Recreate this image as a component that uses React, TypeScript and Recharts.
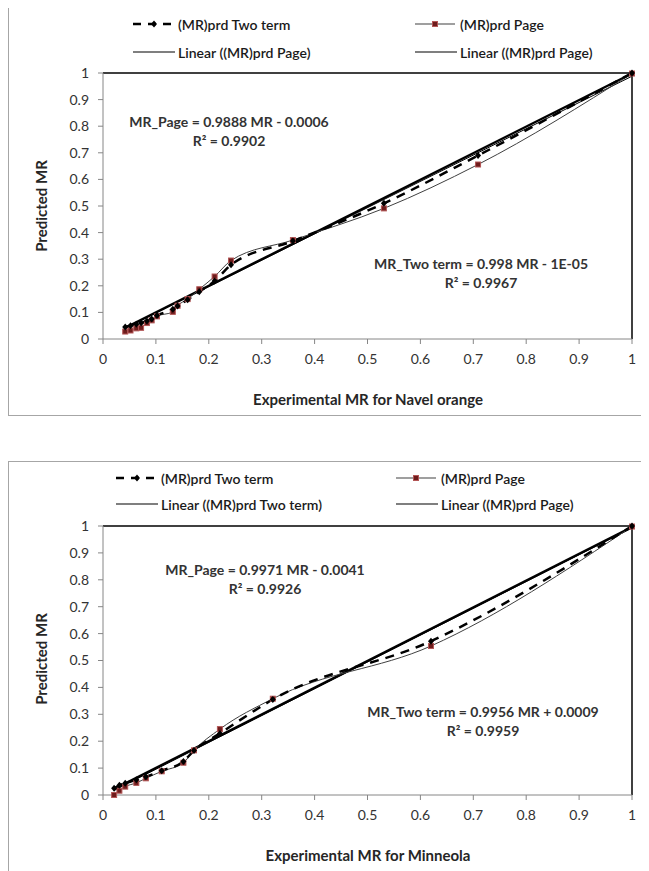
import { LineChart, Line, XAxis, YAxis, ReferenceLine } from "recharts";

const ticks = [0, 0.1, 0.2, 0.3, 0.4, 0.5, 0.6, 0.7, 0.8, 0.9, 1];

// Navel orange
const navelMR = [0.042, 0.052, 0.063, 0.072, 0.083, 0.092, 0.102, 0.132, 0.141, 0.16, 0.182, 0.211, 0.242, 0.359, 0.531, 0.709, 1];
const navelTwoTerm = [0.045, 0.05, 0.055, 0.06, 0.068, 0.075, 0.088, 0.112, 0.124, 0.148, 0.178, 0.218, 0.279, 0.368, 0.51, 0.69, 1];
const navelPage = [0.028, 0.032, 0.04, 0.042, 0.06, 0.07, 0.085, 0.102, 0.125, 0.15, 0.187, 0.235, 0.295, 0.372, 0.491, 0.656, 0.998];
const navelTrendX = [0.042, 1];
const navelTrendTwo = [0.042, 0.998];
const navelTrendPage = [0.041, 0.988];

// Minneola
const minneolaMR = [0.021, 0.031, 0.042, 0.063, 0.081, 0.111, 0.152, 0.172, 0.221, 0.321, 0.62, 1];
const minneolaTwoTerm = [0.025, 0.036, 0.044, 0.057, 0.068, 0.09, 0.125, 0.165, 0.229, 0.355, 0.572, 1];
const minneolaPage = [0.0, 0.016, 0.031, 0.045, 0.062, 0.088, 0.12, 0.166, 0.245, 0.358, 0.554, 0.998];
const minneolaTrendX = [0.021, 1];
const minneolaTrendTwo = [0.022, 0.996];
const minneolaTrendPage = [0.017, 0.993];

const font = "Lato, 'Open Sans', sans-serif";
const axisGray = "#868686";

const rows = (xs: number[], ys: number[]) => ys.map((y, i) => ({ x: xs[i], y }));

const pageDot = (p: any) => (
    <rect key={p.index} x={p.cx - 2.5} y={p.cy - 2.5} width={5} height={5} fill="#6e1c1c" stroke="#b35656" strokeWidth={1} />
);
const twoDot = (p: any) => (
    <path key={p.index} d={`M${p.cx},${p.cy - 3.5}L${p.cx + 3},${p.cy}L${p.cx},${p.cy + 3.5}L${p.cx - 3},${p.cy}Z`} fill="#000" />
);

function LegendItem({ x, y, kind, label }: { x: number; y: number; kind: string; label: string }) {
    return (
        <div style={{ position: "absolute", left: x, top: y - 10, height: 20, display: "flex", alignItems: "center", whiteSpace: "nowrap" }}>
            <svg width={44} height={20}>
                {kind === "dash" && (
                    <>
                        <line x1={1} y1={10} x2={43} y2={10} stroke="#000" strokeWidth={2.5} strokeDasharray="8 7" />
                        <path d="M22,6.5L25,10L22,13.5L19,10Z" fill="#000" />
                    </>
                )}
                {kind === "page" && (
                    <>
                        <line x1={1} y1={10} x2={41} y2={10} stroke="#404040" strokeWidth={1.2} />
                        <rect x={18.5} y={7.5} width={5} height={5} fill="#6e1c1c" stroke="#b35656" />
                    </>
                )}
                {kind === "line" && <line x1={1} y1={10} x2={43} y2={10} stroke="#000" strokeWidth={1.2} />}
            </svg>
            <span style={{ fontFamily: font, fontSize: 14, fontWeight: 600, color: "#1a1a1a", marginLeft: 2 }}>{label}</span>
        </div>
    );
}

function Note({ x, y, text, r2 }: { x: number; y: number; text: string; r2: string }) {
    const st: any = { position: "absolute", transform: "translateX(-50%)", fontFamily: font, fontSize: 14, fontWeight: 700, color: "#333", whiteSpace: "nowrap" };
    return (
        <>
            <div style={{ ...st, left: x, top: y - 9 }}>{text}</div>
            <div style={{ ...st, left: x, top: y + 10 }}>R² = {r2}</div>
        </>
    );
}

function DryingChart(props: {
    mr: number[]; two: number[]; page: number[];
    trendX: number[]; trendTwo: number[]; trendPage: number[];
    plotTop: number; xTitle: string; legend: any[]; notes: any[]; style: any;
}) {
    const { mr, two, page, trendX, trendTwo, trendPage, plotTop, xTitle, legend, notes, style } = props;
    return (
        <div style={{ position: "relative", width: 637, height: 411, border: "1px solid #a6a6a6", boxSizing: "border-box", background: "#fff", ...style }}>
            <LineChart width={635} height={409} margin={{ top: plotTop, right: 12, left: 34, bottom: 46 }}>
                <XAxis type="number" dataKey="x" domain={[0, 1]} ticks={ticks} height={30}
                    stroke={axisGray} tickSize={5} tickMargin={10}
                    tick={{ fill: "#333", fontSize: 14, fontFamily: font }} />
                <YAxis type="number" domain={[0, 1]} ticks={ticks} width={60}
                    stroke={axisGray} tickSize={5} tickMargin={9}
                    tick={{ fill: "#333", fontSize: 14, fontFamily: font }} />
                <ReferenceLine y={1} stroke="#000" strokeWidth={1.5} />
                <ReferenceLine x={1} stroke="#000" strokeWidth={1.5} />
                <Line data={rows(trendX, trendTwo)} dataKey="y" stroke="#000" strokeWidth={2.4} dot={false} isAnimationActive={false} />
                <Line data={rows(trendX, trendPage)} dataKey="y" stroke="#000" strokeWidth={1} dot={false} isAnimationActive={false} />
                <Line data={rows(mr, page)} dataKey="y" type="monotone" stroke="#404040" strokeWidth={1} dot={pageDot} isAnimationActive={false} />
                <Line data={rows(mr, two)} dataKey="y" type="monotone" stroke="#000" strokeWidth={2.5} strokeDasharray="9 7" dot={twoDot} isAnimationActive={false} />
            </LineChart>
            {legend.map((l, i) => <LegendItem key={i} {...l} />)}
            {notes.map((n, i) => <Note key={i} {...n} />)}
            <div style={{ position: "absolute", left: 32, top: plotTop + 133, transform: "translate(-50%, -50%) rotate(-90deg)", fontFamily: font, fontSize: 15, fontWeight: 700, color: "#262626", whiteSpace: "nowrap" }}>
                Predicted MR
            </div>
            <div style={{ position: "absolute", left: 359, top: 393, transform: "translate(-50%, -50%)", fontFamily: font, fontSize: 15, fontWeight: 700, color: "#262626", whiteSpace: "nowrap" }}>
                {xTitle}
            </div>
        </div>
    );
}

export default function App() {
    return (
        <div>
            <DryingChart
                mr={navelMR} two={navelTwoTerm} page={navelPage}
                trendX={navelTrendX} trendTwo={navelTrendTwo} trendPage={navelTrendPage}
                plotTop={67} xTitle="Experimental MR for Navel orange" style={{ marginTop: -3 }}
                legend={[
                    { x: 123, y: 18, kind: "dash", label: "(MR)prd Two term" },
                    { x: 405, y: 18, kind: "page", label: "(MR)prd Page" },
                    { x: 123, y: 46, kind: "line", label: "Linear ((MR)prd Page)" },
                    { x: 405, y: 46, kind: "line", label: "Linear ((MR)prd  Page)" },
                ]}
                notes={[
                    { x: 220, y: 116, text: "MR_Page = 0.9888 MR - 0.0006", r2: "0.9902" },
                    { x: 472, y: 258, text: "MR_Two term = 0.998 MR - 1E-05", r2: "0.9967" },
                ]}
            />
            <DryingChart
                mr={minneolaMR} two={minneolaTwoTerm} page={minneolaPage}
                trendX={minneolaTrendX} trendTwo={minneolaTrendTwo} trendPage={minneolaTrendPage}
                plotTop={64} xTitle="Experimental MR for Minneola" style={{ marginTop: 45 }}
                legend={[
                    { x: 106, y: 16, kind: "dash", label: "(MR)prd Two term" },
                    { x: 386, y: 16, kind: "page", label: "(MR)prd Page" },
                    { x: 106, y: 42, kind: "line", label: "Linear ((MR)prd Two term)" },
                    { x: 386, y: 42, kind: "line", label: "Linear ((MR)prd Page)" },
                ]}
                notes={[
                    { x: 256, y: 108, text: "MR_Page = 0.9971 MR - 0.0041", r2: "0.9926" },
                    { x: 474, y: 250, text: "MR_Two term = 0.9956 MR + 0.0009", r2: "0.9959" },
                ]}
            />
        </div>
    );
}
